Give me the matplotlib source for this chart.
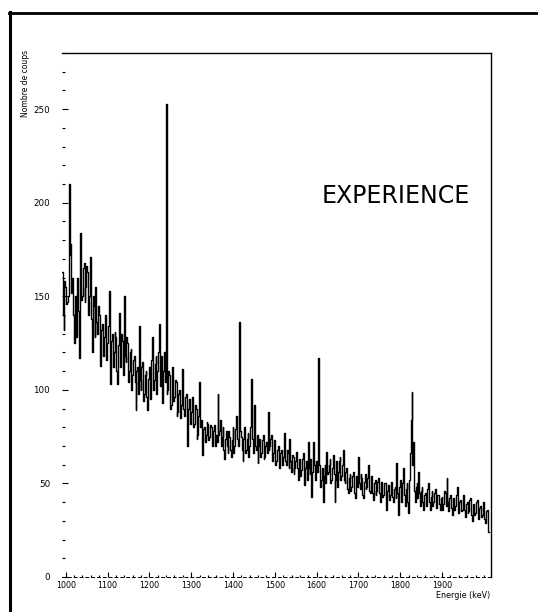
import numpy as np
import matplotlib
matplotlib.use("Agg")
import matplotlib.pyplot as plt
from matplotlib.lines import Line2D
from matplotlib.ticker import MultipleLocator, FixedLocator

# Spectrum: one value per 2 keV channel, starting at 992 keV
START_KEV = 992
STEP_KEV = 2
counts = [
    163, 140, 132, 158, 155, 146, 147, 150, 210, 172, 178, 152, 160, 140, 125, 133, 150, 128, 160, 142,
    117, 135, 184, 148, 150, 165, 168, 147, 155, 166, 163, 140, 150, 158, 171, 138, 120, 150, 145, 128,
    155, 136, 130, 145, 140, 122, 113, 132, 135, 118, 128, 137, 140, 116, 125, 134, 153, 120, 103, 126,
    130, 112, 120, 131, 128, 110, 103, 124, 141, 112, 118, 130, 126, 108, 150, 118, 115, 128, 125, 104,
    110, 120, 122, 100, 108, 116, 118, 104, 89, 110, 112, 98, 134, 105, 100, 112, 115, 94, 98, 108,
    110, 96, 89, 106, 112, 95, 104, 116, 128, 100, 105, 114, 118, 98, 110, 120, 135, 102, 112, 118,
    93, 110, 120, 104, 253, 98, 100, 110, 108, 90, 92, 103, 112, 94, 96, 105, 104, 86, 88, 98,
    100, 85, 92, 101, 111, 90, 86, 96, 98, 84, 70, 90, 95, 82, 88, 93, 96, 80, 82, 92,
    90, 74, 76, 86, 104, 80, 84, 74, 65, 79, 80, 72, 76, 83, 82, 73, 75, 81, 80, 70,
    73, 78, 81, 70, 76, 72, 98, 76, 78, 84, 70, 75, 80, 68, 63, 74, 78, 70, 66, 78,
    75, 68, 64, 73, 80, 66, 70, 79, 86, 74, 72, 70, 136, 78, 75, 68, 62, 74, 80, 66,
    68, 74, 77, 64, 70, 80, 106, 74, 72, 66, 92, 70, 68, 76, 61, 70, 74, 64, 66, 73,
    76, 63, 64, 70, 72, 66, 88, 68, 70, 74, 76, 62, 66, 71, 73, 60, 62, 68, 70, 62,
    58, 66, 68, 60, 64, 70, 77, 62, 60, 68, 66, 58, 74, 62, 56, 65, 64, 55, 58, 62,
    67, 58, 52, 60, 63, 54, 57, 63, 66, 56, 49, 58, 62, 52, 72, 58, 55, 63, 43, 56,
    72, 60, 55, 52, 62, 56, 117, 60, 58, 48, 52, 58, 40, 54, 60, 50, 67, 55, 56, 60,
    63, 50, 52, 58, 65, 55, 40, 52, 62, 48, 56, 62, 64, 52, 54, 60, 68, 52, 50, 56,
    58, 47, 45, 53, 55, 46, 48, 54, 56, 45, 42, 52, 54, 48, 64, 50, 47, 55, 53, 44,
    42, 51, 55, 47, 48, 53, 60, 46, 45, 52, 54, 45, 41, 50, 52, 44, 46, 51, 53, 45,
    40, 48, 51, 43, 44, 50, 50, 42, 36, 46, 49, 41, 44, 50, 51, 43, 40, 47, 48, 42,
    61, 45, 33, 48, 52, 43, 40, 50, 58, 44, 38, 47, 50, 40, 34, 52, 66, 84, 99, 60,
    72, 46, 40, 48, 50, 42, 56, 45, 38, 46, 48, 40, 36, 44, 45, 38, 42, 47, 50, 40,
    36, 43, 46, 38, 40, 45, 47, 37, 38, 44, 44, 39, 36, 42, 43, 36, 39, 46, 45, 38,
    53, 40, 35, 42, 44, 37, 33, 41, 42, 36, 38, 44, 48, 38, 34, 40, 41, 35, 36, 42,
    44, 36, 32, 39, 40, 34, 35, 41, 42, 33, 30, 38, 39, 33, 34, 40, 41, 34, 31, 37,
    38, 32, 33, 39, 40, 31, 29, 35, 36, 30, 24,
]
x_major = [1000, 1100, 1200, 1300, 1400, 1500, 1600, 1700, 1800, 1900]
y_major = [0, 50, 100, 150, 200, 250]

energies = START_KEV + STEP_KEV * np.arange(len(counts))

fig = plt.figure(figsize=(5.38, 6.12), dpi=100)
ax = fig.add_axes([0.1152, 0.0572, 0.7974, 0.8562])

ax.plot(energies, counts, drawstyle="steps-mid", color="black", lw=1.0)

ax.set_xlim(991, 2017)
ax.set_ylim(0, 280)

# Axis frame: top and right solid, bottom faint dashed, no left line
ax.spines["left"].set_visible(False)
ax.spines["bottom"].set_linestyle((0, (3, 3)))
ax.spines["bottom"].set_linewidth(0.7)
ax.spines["top"].set_linewidth(1.0)
ax.spines["right"].set_linewidth(1.0)

ax.xaxis.set_major_locator(FixedLocator(x_major))
ax.xaxis.set_minor_locator(MultipleLocator(20))
ax.yaxis.set_major_locator(FixedLocator(y_major))
ax.yaxis.set_minor_locator(MultipleLocator(10))

ax.tick_params(axis="both", which="both", direction="in", color="black",
               top=False, right=False, width=0.8)
ax.tick_params(axis="y", which="major", length=4.5, pad=8.5, labelsize=6.3)
ax.tick_params(axis="y", which="minor", length=2)
ax.tick_params(axis="x", which="major", length=3.5, pad=3, labelsize=5.8)
ax.tick_params(axis="x", which="minor", length=1.8)
ax.set_xticklabels([str(v) for v in x_major])

# Axis titles placed as in the scan
fig.text(25 / 538, 1 - 50 / 612, "Nombre de coups", rotation=90,
         ha="center", va="top", fontsize=5.5)
fig.text(490 / 538, 1 - 596 / 612, "Energie (keV)", ha="right",
         va="center", fontsize=5.8)

ax.text(0.606, 0.727, "EXPERIENCE", transform=ax.transAxes, ha="left",
        va="center", fontsize=17)

# Outer page frame (left and top edges)
fig.add_artist(Line2D([9.5 / 538, 9.5 / 538], [0, 1 - 12 / 612],
                      transform=fig.transFigure, color="black", lw=2.2))
fig.add_artist(Line2D([9 / 538, 1], [1 - 12.5 / 612, 1 - 12.5 / 612],
                      transform=fig.transFigure, color="black", lw=2.0))

fig.savefig("out.png", dpi=100)
